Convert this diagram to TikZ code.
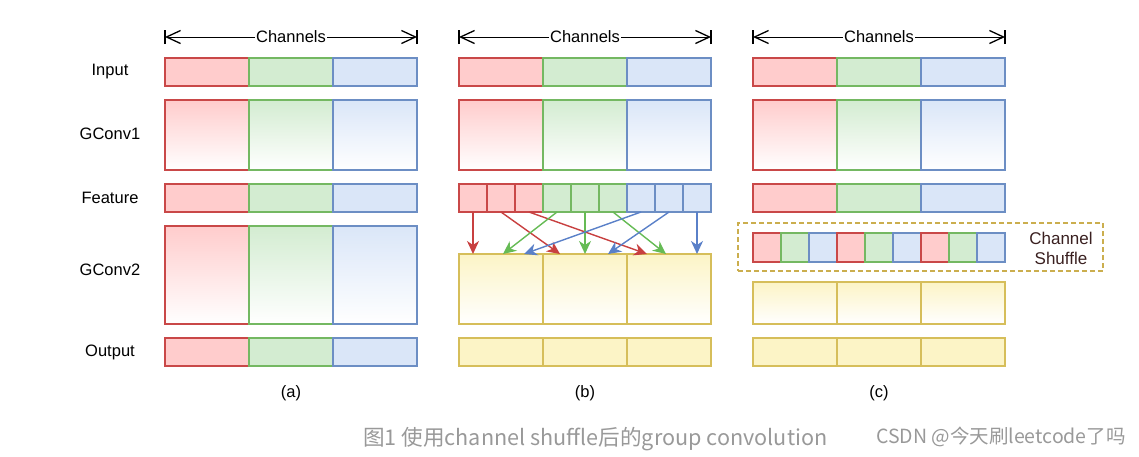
\documentclass[tikz,border=0pt]{standalone}
\usepackage{fontspec}
\setmainfont{Liberation Sans}
\newfontfamily\cjk{Noto Sans CJK SC}
\usetikzlibrary{arrows.meta}
\definecolor{rf}{HTML}{FFCCCC}
\definecolor{rd}{HTML}{C94848}
\definecolor{gf}{HTML}{D3ECD1}
\definecolor{gd}{HTML}{74B862}
\definecolor{bf}{HTML}{DAE6F8}
\definecolor{bd}{HTML}{6C8EC4}
\definecolor{yf}{HTML}{FCF4C6}
\definecolor{yd}{HTML}{D6BE5A}
\definecolor{ared}{HTML}{C84040}
\definecolor{agreen}{HTML}{66BB55}
\definecolor{ablue}{HTML}{5A80C8}
\definecolor{capgray}{HTML}{999999}
\definecolor{shtext}{HTML}{3A2020}
\definecolor{dashcol}{HTML}{CBAE4E}
\begin{document}
\begin{tikzpicture}[x=1pt,y=-1pt,
  box/.style={line width=1.2pt, inner sep=0pt, outer sep=0pt, anchor=north west, minimum width=84pt},
  redbox/.style={box, draw=rd, fill=rf},
  greenbox/.style={box, draw=gd, fill=gf},
  bluebox/.style={box, draw=bd, fill=bf},
  yellowbox/.style={box, draw=yd, fill=yf},
  redgrad/.style={box, draw=rd, top color=rf, bottom color=white},
  greengrad/.style={box, draw=gd, top color=gf, bottom color=white},
  bluegrad/.style={box, draw=bd, top color=bf, bottom color=white},
  yellowgrad/.style={box, draw=yd, top color=yf, bottom color=white},
  chanline/.style={line width=1pt, {Straight Barb[length=14pt,width=13pt,line width=1.3pt]}-{Straight Barb[length=14pt,width=13pt,line width=1.3pt]}},
  chanbar/.style={line width=1.3pt},
  chantext/.style={midway, fill=white, inner sep=1pt, font=\fontsize{16.5}{18}\selectfont},
  lbl/.style={font=\fontsize{16.5}{18}\selectfont, inner sep=0pt},
  arr/.style={line width=1.4pt, -{Stealth[length=13pt,width=12pt,inset=4pt]}},
]
\useasboundingbox (0,0) rectangle (1139,456);

% ---- row labels
\node[lbl] (l-in) at (110,72) {Input};
\node[lbl] (l-g1) at (110,134) {GConv1};
\node[lbl] (l-fe) at (110,198) {Feature};
\node[lbl] (l-g2) at (110,270) {GConv2};
\node[lbl] (l-out) at (110,352) {Output};

% ---- common parts of the three panels
\foreach \p/\x in {a/165,b/459,c/753}{
  \coordinate (\p-cl) at (\x,37);
  \coordinate (\p-cr) at (\x+252,37);
  \draw[chanline] (\p-cl) -- (\p-cr) node[chantext] (\p-ch) {Channels};
  \draw[chanbar] ([yshift=-7pt]\p-cl) -- ([yshift=7pt]\p-cl);
  \draw[chanbar] ([yshift=-7pt]\p-cr) -- ([yshift=7pt]\p-cr);
  % Input
  \node[redbox, minimum height=28pt] (\p-in1) at (\x,58) {};
  \node[greenbox, minimum height=28pt] (\p-in2) at (\x+84,58) {};
  \node[bluebox, minimum height=28pt] (\p-in3) at (\x+168,58) {};
  % GConv1
  \node[redgrad, minimum height=70pt] (\p-g11) at (\x,100) {};
  \node[greengrad, minimum height=70pt] (\p-g12) at (\x+84,100) {};
  \node[bluegrad, minimum height=70pt] (\p-g13) at (\x+168,100) {};
}

% ---- panel (a)
\node[redbox, minimum height=28pt] (a-f1) at (165,184) {};
\node[greenbox, minimum height=28pt] (a-f2) at (249,184) {};
\node[bluebox, minimum height=28pt] (a-f3) at (333,184) {};
\node[redgrad, minimum height=98pt] (a-g21) at (165,226) {};
\node[greengrad, minimum height=98pt] (a-g22) at (249,226) {};
\node[bluegrad, minimum height=98pt] (a-g23) at (333,226) {};
\node[redbox, minimum height=28pt] (a-o1) at (165,338) {};
\node[greenbox, minimum height=28pt] (a-o2) at (249,338) {};
\node[bluebox, minimum height=28pt] (a-o3) at (333,338) {};
\node[lbl] (a-lab) at (291,393) {(a)};

% ---- panel (b)
\foreach \i/\s in {1/redbox,2/redbox,3/redbox,4/greenbox,5/greenbox,6/greenbox,7/bluebox,8/bluebox,9/bluebox}{
  \node[\s, minimum width=28pt, minimum height=28pt] (b-f\i) at ({459+28*(\i-1)},184) {};
}
\foreach \i in {1,2,3}{
  \node[yellowgrad, minimum height=70pt] (b-y\i) at ({459+84*(\i-1)},254) {};
  \node[yellowbox, minimum height=28pt] (b-o\i) at ({459+84*(\i-1)},338) {};
}
\foreach \i/\t/\dx/\c in {1/b-y1/14/ared,2/b-y2/17/ared,3/b-y3/20/ared,4/b-y1/44/agreen,5/b-y2/42/agreen,6/b-y3/39/agreen,7/b-y1/65/ablue,8/b-y2/65/ablue,9/b-y3/70/ablue}{
  \draw[arr, draw=\c, fill=\c] (b-f\i.south) -- ([xshift=\dx pt]\t.north west);
}
\node[lbl] (b-lab) at (585,393) {(b)};

% ---- panel (c)
\node[redbox, minimum height=28pt] (c-f1) at (753,184) {};
\node[greenbox, minimum height=28pt] (c-f2) at (837,184) {};
\node[bluebox, minimum height=28pt] (c-f3) at (921,184) {};
\node[box, draw=dashcol, dash pattern=on 5pt off 3pt, minimum width=365pt, minimum height=48pt] (c-shbox) at (738,223) {};
\foreach \i/\s in {1/redbox,2/greenbox,3/bluebox,4/redbox,5/greenbox,6/bluebox,7/redbox,8/greenbox,9/bluebox}{
  \node[\s, minimum width=28pt, minimum height=29pt] (c-s\i) at ({753+28*(\i-1)},233) {};
}
\node[font=\fontsize{17}{20}\selectfont, align=center, text=shtext, inner sep=0pt] (c-shtext) at (1061,248) {Channel\\Shuffle};
\foreach \i in {1,2,3}{
  \node[yellowgrad, minimum height=42pt] (c-y\i) at ({753+84*(\i-1)},282) {};
  \node[yellowbox, minimum height=28pt] (c-o\i) at ({753+84*(\i-1)},338) {};
}
\node[lbl] (c-lab) at (879,393) {(c)};

% ---- caption and watermark
\node[anchor=west, inner sep=0pt, text=capgray, font=\cjk\fontsize{21.6}{25}\selectfont] (cap) at (363,439) {图1 使用channel shuffle后的group convolution};
\node[anchor=west, inner sep=0pt, text=capgray, font=\cjk\fontsize{19.5}{22}\selectfont] (wm) at (876,437) {CSDN @今天刷leetcode了吗};
\end{tikzpicture}
\end{document}
